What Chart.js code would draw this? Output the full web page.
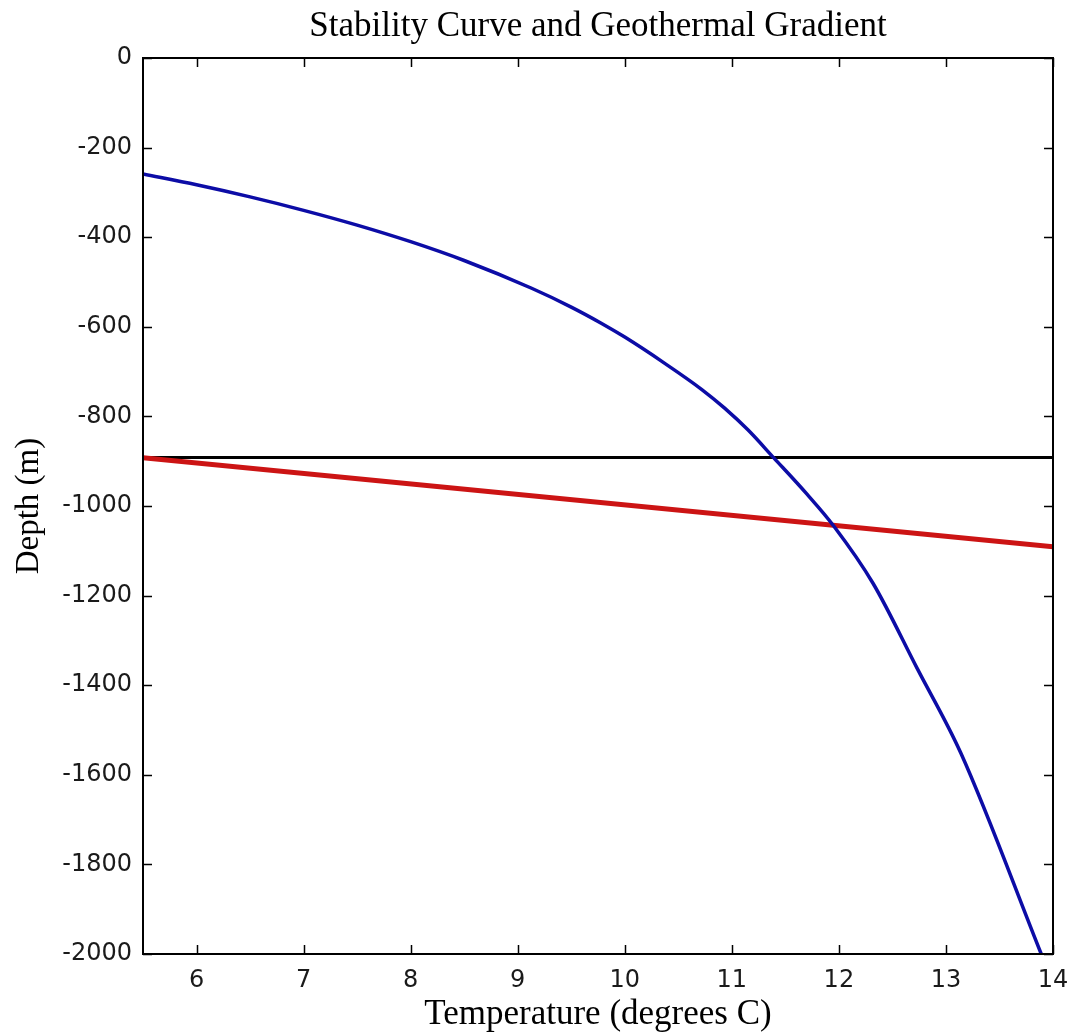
<!DOCTYPE html>
<html>
<head>
<meta charset="utf-8">
<script src="https://cdn.jsdelivr.net/npm/chart.js@4.4.0/dist/chart.umd.min.js"></script>
<style>
  html, body { margin: 0; padding: 0; background: #ffffff; }
  #wrap { width: 1071px; height: 1036px; position: relative; }
</style>
</head>
<body>
<div id="wrap"><canvas id="c" width="1071" height="1036"></canvas></div>
<script>
// ---- data ----
const chartTitle = "Stability Curve and Geothermal Gradient";
const xAxisLabel = "Temperature (degrees C)";
const yAxisLabel = "Depth (m)";

// stability curve (temperature in degrees C, depth in m)
const stabilityTemp  = [5.5, 6.0, 6.5, 7.0, 7.5, 8.0, 8.5, 9.13, 9.5, 9.78, 10.0, 10.37, 10.72, 10.93, 11.15, 11.39, 11.7, 11.95, 12.32, 12.73, 13.14, 13.89];
const stabilityDepth = [-259, -283, -310, -340, -373, -410, -452, -514, -556, -592, -623, -681, -740, -781, -830, -892, -973, -1044, -1173, -1362, -1552, -2000];

// geothermal gradient
const gradientTemp  = [5.5, 14];
const gradientDepth = [-892, -1091];

// seafloor depth line
const seafloorTemp  = [5.5, 14];
const seafloorDepth = [-892, -892];

// axis ticks
const xTicks = [6, 7, 8, 9, 10, 11, 12, 13, 14];
const yTicks = [-2000, -1800, -1600, -1400, -1200, -1000, -800, -600, -400, -200, 0];
const xMin = 5.5, xMax = 14, yMin = -2000, yMax = 0;

function pts(xs, ys) { return xs.map((x, i) => ({ x: x, y: ys[i] })); }

const tickFont = { family: "'DejaVu Sans', sans-serif", size: 24, weight: 'normal' };
const serif = "'Liberation Serif', 'Times New Roman', serif";

const boxPlugin = {
  id: 'boxTicks',
  afterDatasetsDraw(chart) {
    const ctx = chart.ctx;
    const a = chart.chartArea;
    const xs = chart.scales.x, ys = chart.scales.y;
    const tl = 9;
    ctx.save();
    ctx.strokeStyle = '#000';
    ctx.lineWidth = 1.5;
    ctx.beginPath();
    xTicks.forEach(v => {
      const px = Math.round(xs.getPixelForValue(v)) + 0.5;
      ctx.moveTo(px, a.bottom); ctx.lineTo(px, a.bottom - tl);
      ctx.moveTo(px, a.top); ctx.lineTo(px, a.top + tl);
    });
    yTicks.forEach(v => {
      const py = Math.round(ys.getPixelForValue(v)) + 0.5;
      ctx.moveTo(a.left, py); ctx.lineTo(a.left + tl, py);
      ctx.moveTo(a.right, py); ctx.lineTo(a.right - tl, py);
    });
    ctx.stroke();
    ctx.lineWidth = 2;
    ctx.strokeRect(a.left, a.top, a.right - a.left, a.bottom - a.top);
    ctx.restore();
  }
};

new Chart(document.getElementById('c'), {
  type: 'scatter',
  data: {
    datasets: [
      {
        label: 'Stability curve',
        data: pts(stabilityTemp, stabilityDepth),
        showLine: true, borderColor: '#0c0ca6', borderWidth: 3.5,
        pointRadius: 0, fill: false, cubicInterpolationMode: 'monotone'
      },
      {
        label: 'Geothermal gradient',
        data: pts(gradientTemp, gradientDepth),
        showLine: true, borderColor: '#cc1414', borderWidth: 5,
        pointRadius: 0, fill: false, tension: 0
      },
      {
        label: 'Seafloor',
        data: pts(seafloorTemp, seafloorDepth),
        showLine: true, borderColor: '#000000', borderWidth: 3,
        pointRadius: 0, fill: false, tension: 0
      }
    ]
  },
  options: {
    responsive: false,
    animation: false,
    devicePixelRatio: 1,
    layout: { padding: { left: 0, right: 18, top: 0, bottom: 0 } },
    plugins: {
      legend: { display: false },
      tooltip: { enabled: false },
      title: {
        display: true,
        fullSize: false,
        text: chartTitle,
        color: '#000',
        font: { family: serif, size: 35, weight: 'normal', lineHeight: 1.2 },
        padding: { top: 6, bottom: 10 }
      }
    },
    scales: {
      x: {
        type: 'linear',
        min: xMin, max: xMax,
        grid: { display: false, drawTicks: false },
        border: { display: false },
        afterBuildTicks: (axis) => { axis.ticks = xTicks.map(v => ({ value: v })); },
        afterFit: (s) => { s.height = 82; s.paddingLeft = 0; s.paddingRight = 0; },
        ticks: {
          autoSkip: false, maxRotation: 0, minRotation: 0,
          color: '#1a1a1a', font: tickFont, padding: 12,
          callback: (v) => String(v)
        },
        title: {
          display: true, text: xAxisLabel, color: '#000',
          font: { family: serif, size: 35, weight: 'normal', lineHeight: 1.2 },
          padding: { top: 0, bottom: 0 }
        }
      },
      y: {
        type: 'linear',
        min: yMin, max: yMax,
        grid: { display: false, drawTicks: false },
        border: { display: false },
        afterBuildTicks: (axis) => { axis.ticks = yTicks.map(v => ({ value: v })); },
        afterFit: (s) => { s.width = 143; s.paddingTop = 0; s.paddingBottom = 0; },
        ticks: {
          autoSkip: false,
          color: '#1a1a1a', font: tickFont, padding: 11,
          callback: (v) => String(v)
        },
        title: {
          display: true, text: yAxisLabel, color: '#000',
          font: { family: serif, size: 33, weight: 'normal', lineHeight: 1.2 },
          padding: { top: 10, bottom: 0 }
        }
      }
    }
  },
  plugins: [boxPlugin]
});
</script>
</body>
</html>
